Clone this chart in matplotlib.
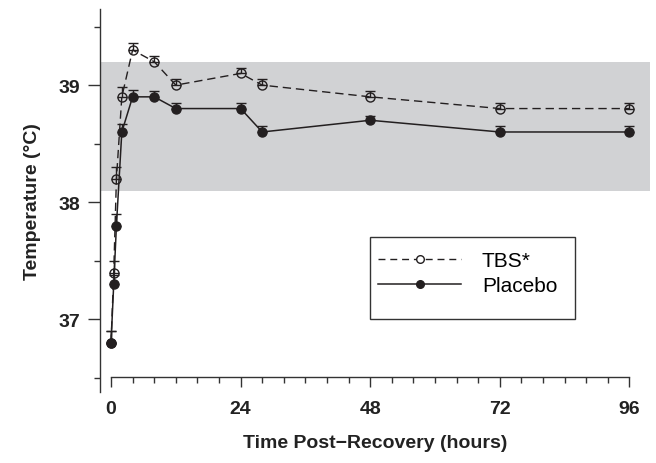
# Core temperature after recovery: TBS vs placebo
import numpy as np
import matplotlib.pyplot as plt
from matplotlib.patches import Rectangle
from matplotlib.ticker import MultipleLocator

hours = [0, 0.5, 1, 2, 4, 8, 12, 24, 28, 48, 72, 96]
tbs = [36.8, 37.4, 38.2, 38.9, 39.3, 39.2, 39.0, 39.1, 39.0, 38.9, 38.8, 38.8]
tbs_err = [0.1, 0.1, 0.1, 0.08, 0.06, 0.05, 0.05, 0.05, 0.05, 0.05, 0.05, 0.05]
placebo = [36.8, 37.3, 37.8, 38.6, 38.9, 38.9, 38.8, 38.8, 38.6, 38.7, 38.6, 38.6]
placebo_err = [0.1, 0.08, 0.1, 0.07, 0.06, 0.05, 0.05, 0.05, 0.05, 0.04, 0.05, 0.05]
band = (38.1, 39.2)
x_ticks = [0, 24, 48, 72, 96]
y_ticks = [37, 38, 39]

ink = '#231f20'
plt.rcParams['font.family'] = ['Liberation Sans', 'DejaVu Sans']

fig = plt.figure(figsize=(6.56, 4.64), dpi=100)
ax = fig.add_axes([100 / 656, 71 / 464, 550 / 656, 383 / 464])

ax.axhspan(band[0], band[1], color='#d1d2d4', lw=0, zorder=0)

zeros = np.zeros(len(hours))
ax.errorbar(hours, tbs, yerr=[zeros, tbs_err], fmt='o--', color=ink,
            mfc='none', mec=ink, ms=6.5, mew=1.0, lw=1.0, dashes=(6, 3.5),
            capsize=3.5, elinewidth=1.0, capthick=1.0, zorder=3)
ax.errorbar(hours, placebo, yerr=[zeros, placebo_err], fmt='o-', color=ink,
            mfc=ink, mec=ink, ms=6.5, lw=1.1,
            capsize=3.5, elinewidth=1.0, capthick=1.0, zorder=4)

ax.set_xlim(-2.04, 99.8)
ax.set_ylim(36.38, 39.65)

for s in ['top', 'right']:
    ax.spines[s].set_visible(False)
for s in ['left', 'bottom']:
    ax.spines[s].set_linewidth(1.0)
    ax.spines[s].set_color('#333333')
ax.spines['bottom'].set_position(('data', 36.51))
ax.spines['bottom'].set_bounds(0, 96)

ax.set_xticks(x_ticks)
ax.xaxis.set_minor_locator(MultipleLocator(4))
ax.set_yticks(y_ticks)
ax.yaxis.set_minor_locator(MultipleLocator(0.5))
ax.tick_params(axis='x', which='major', length=7, width=1.0, pad=10,
               labelsize=14, color='#333333')
ax.tick_params(axis='x', which='minor', length=4.5, width=1.0, color='#333333')
ax.tick_params(axis='y', which='major', length=8.5, width=1.0, pad=6,
               labelsize=14, color='#333333')
ax.tick_params(axis='y', which='minor', length=4, width=1.0, color='#333333')
for lab in ax.get_xticklabels() + ax.get_yticklabels():
    lab.set_fontweight('bold')
    lab.set_color('#222222')

ax.set_xlabel('Time Post\u2212Recovery (hours)', fontsize=14, fontweight='bold',
              labelpad=12, color='#222222')
ax.set_ylabel('Temperature (\u00b0C)', fontsize=14, fontweight='bold',
              labelpad=12, color='#222222')

# legend with a square frame
h1 = plt.Line2D([], [], ls=(0, (5, 3.5)), color=ink, lw=1.0, marker='o',
                mfc='white', mec=ink, ms=5.5)
h2 = plt.Line2D([], [], ls='-', color=ink, lw=1.1, marker='o',
                mfc=ink, mec=ink, ms=5.5)
ax.legend([h1, h2], ['TBS*', 'Placebo'], loc='upper left',
          bbox_to_anchor=(0.49, 0.39), frameon=False, fontsize=15,
          handlelength=4.0, handletextpad=1.0, labelspacing=0.3,
          borderaxespad=0)
ax.add_patch(Rectangle((270 / 550, 73 / 383), 205 / 550, 82 / 383,
                       transform=ax.transAxes, fill=False, ec='#333333',
                       lw=1.0, zorder=5))

fig.savefig('out.png', dpi=100)
